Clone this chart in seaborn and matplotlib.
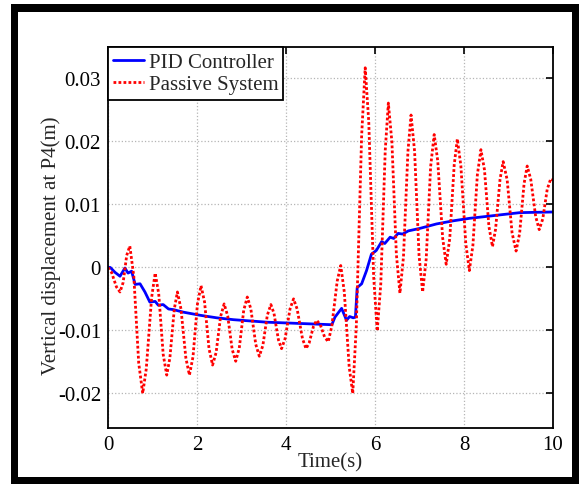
import pandas as pd
import seaborn as sns
import matplotlib.pyplot as plt
from matplotlib.patches import Rectangle
from matplotlib.ticker import FuncFormatter

# PID controller response
pid_t = [0.00, 0.05, 0.16, 0.27, 0.38, 0.45, 0.53, 0.61, 0.72, 0.83, 0.94, 1.06,
         1.13, 1.24, 1.36, 1.47, 1.69, 2.07, 2.44, 2.82, 3.57, 4.31, 5.03, 5.10,
         5.25, 5.36, 5.43, 5.51, 5.56, 5.60, 5.70, 5.81, 5.92, 6.03, 6.15, 6.22,
         6.34, 6.42, 6.52, 6.62, 6.75, 7.01, 7.38, 7.76, 8.13, 8.51, 8.88, 9.26, 10.00]
pid_v = [0.0000, 0.0000, -0.0008, -0.0014, -0.0001, -0.0009, -0.0006, -0.0027, -0.0026,
         -0.0039, -0.0055, -0.0054, -0.0060, -0.0059, -0.0066, -0.0067, -0.0071, -0.0076,
         -0.0080, -0.0083, -0.0087, -0.0089, -0.0091, -0.0079, -0.0065, -0.0084, -0.0078,
         -0.0080, -0.0079, -0.0032, -0.0026, -0.0005, 0.0021, 0.0027, 0.0041, 0.0038,
         0.0048, 0.0046, 0.0054, 0.0053, 0.0058, 0.0062, 0.0069, 0.0074, 0.0078, 0.0081,
         0.0084, 0.0087, 0.0088]

# passive system response
pas_t = [0.00, 0.08, 0.19, 0.27, 0.34, 0.42, 0.49, 0.58, 0.69, 0.78, 0.86, 0.98,
         1.06, 1.14, 1.24, 1.32, 1.39, 1.49, 1.56, 1.64, 1.75, 1.83, 1.91, 2.01,
         2.09, 2.17, 2.27, 2.35, 2.43, 2.53, 2.61, 2.69, 2.79, 2.87, 2.95, 3.05,
         3.13, 3.21, 3.32, 3.40, 3.48, 3.58, 3.66, 3.73, 3.83, 3.90, 3.98, 4.09,
         4.17, 4.25, 4.37, 4.45, 4.52, 4.62, 4.69, 4.77, 4.87, 4.95, 5.03, 5.15,
         5.23, 5.31, 5.42, 5.50, 5.58, 5.70, 5.78, 5.86, 5.97, 6.05, 6.13, 6.23,
         6.30, 6.38, 6.48, 6.56, 6.64, 6.74, 6.81, 6.89, 6.99, 7.07, 7.15, 7.25,
         7.33, 7.41, 7.52, 7.60, 7.68, 7.78, 7.85, 7.93, 8.04, 8.12, 8.20, 8.30,
         8.38, 8.46, 8.56, 8.64, 8.71, 8.81, 8.88, 8.97, 9.08, 9.17, 9.25, 9.35,
         9.42, 9.50, 9.61, 9.69, 9.77, 9.87, 9.95, 10.00]
pas_v = [0.0000, -0.0008, -0.0031, -0.0039, -0.0024, 0.0019, 0.0034, -0.0014, -0.0152,
         -0.0200, -0.0161, -0.0048, -0.0009, -0.0042, -0.0138, -0.0171, -0.0144, -0.0066,
         -0.0039, -0.0066, -0.0144, -0.0171, -0.0142, -0.0058, -0.0029, -0.0055, -0.0129,
         -0.0155, -0.0135, -0.0078, -0.0058, -0.0077, -0.0130, -0.0149, -0.0128, -0.0068,
         -0.0047, -0.0066, -0.0122, -0.0141, -0.0124, -0.0076, -0.0059, -0.0073, -0.0115,
         -0.0129, -0.0113, -0.0066, -0.0050, -0.0066, -0.0113, -0.0129, -0.0120, -0.0093,
         -0.0084, -0.0091, -0.0111, -0.0118, -0.0093, -0.0022, 0.0003, -0.0039, -0.0158,
         -0.0200, -0.0093, 0.0210, 0.0317, 0.0231, -0.0015, -0.0101, -0.0026, 0.0186,
         0.0261, 0.0199, 0.0021, -0.0041, 0.0017, 0.0184, 0.0242, 0.0184, 0.0019,
         -0.0039, 0.0013, 0.0160, 0.0211, 0.0169, 0.0047, 0.0005, 0.0046, 0.0163,
         0.0204, 0.0161, 0.0038, -0.0005, 0.0035, 0.0147, 0.0187, 0.0155, 0.0065,
         0.0033, 0.0061, 0.0140, 0.0168, 0.0139, 0.0055, 0.0026, 0.0054, 0.0133,
         0.0161, 0.0140, 0.0081, 0.0060, 0.0077, 0.0124, 0.0141, 0.0139]

x_ticks = [0, 2, 4, 6, 8, 10]
y_ticks = [-0.02, -0.01, 0, 0.01, 0.02, 0.03]

pid = pd.DataFrame({'t': pid_t, 'v': pid_v})
pas = pd.DataFrame({'t': pas_t, 'v': pas_v})

sns.set_style('white')
plt.rcParams['font.family'] = ['Liberation Serif', 'DejaVu Serif']
plt.rcParams['axes.unicode_minus'] = False

fig = plt.figure(figsize=(5.79, 4.85), dpi=100)
ax = fig.add_axes([108/579, 56/485, 445/579, 381/485])

# black frame round the whole picture
fig.add_artist(Rectangle((11/579, 0), 1 - 11/579, 480/485, transform=fig.transFigure,
                         facecolor='black', edgecolor='none', zorder=-20))
fig.add_artist(Rectangle((18/579, 7/485), 554/579, 465/485, transform=fig.transFigure,
                         facecolor='white', edgecolor='none', zorder=-19))

sns.lineplot(data=pid, x='t', y='v', ax=ax, color='#0000ff', lw=2, label='PID Controller')
sns.lineplot(data=pas, x='t', y='v', ax=ax, color='#ff0000', lw=2,
             linestyle=(0, (1, 0.8)), label='Passive System')

ax.set_xlim(0, 10)
ax.set_ylim(-0.0255, 0.035)
ax.set_xticks(x_ticks)
ax.set_yticks(y_ticks)
ax.yaxis.set_major_formatter(FuncFormatter(lambda v, p: '0' if abs(v) < 1e-9 else f'{v:.2f}'))
ax.grid(True, color='#b5b5b5', linestyle=':', lw=0.9)
ax.tick_params(direction='in', length=5, width=1.2, top=True, right=True,
               labelsize=15, pad=5, colors='black')
for s in ax.spines.values():
    s.set_visible(True)
    s.set_color('black')
    s.set_linewidth(1.3)

ax.set_xlabel('Time(s)', fontsize=15, labelpad=-1)
ax.set_ylabel('Vertical displacement at P4(m)', fontsize=15, labelpad=-2)
ax.yaxis.label.set_y(0.482)

leg = ax.legend(loc='upper left', borderaxespad=0, fancybox=False, framealpha=1,
                edgecolor='black', fontsize=15, handlelength=1.5, handletextpad=0.2,
                borderpad=0.25, labelspacing=0.15)
leg.get_frame().set_linewidth(1.3)

fig.savefig('out.png', dpi=100)
